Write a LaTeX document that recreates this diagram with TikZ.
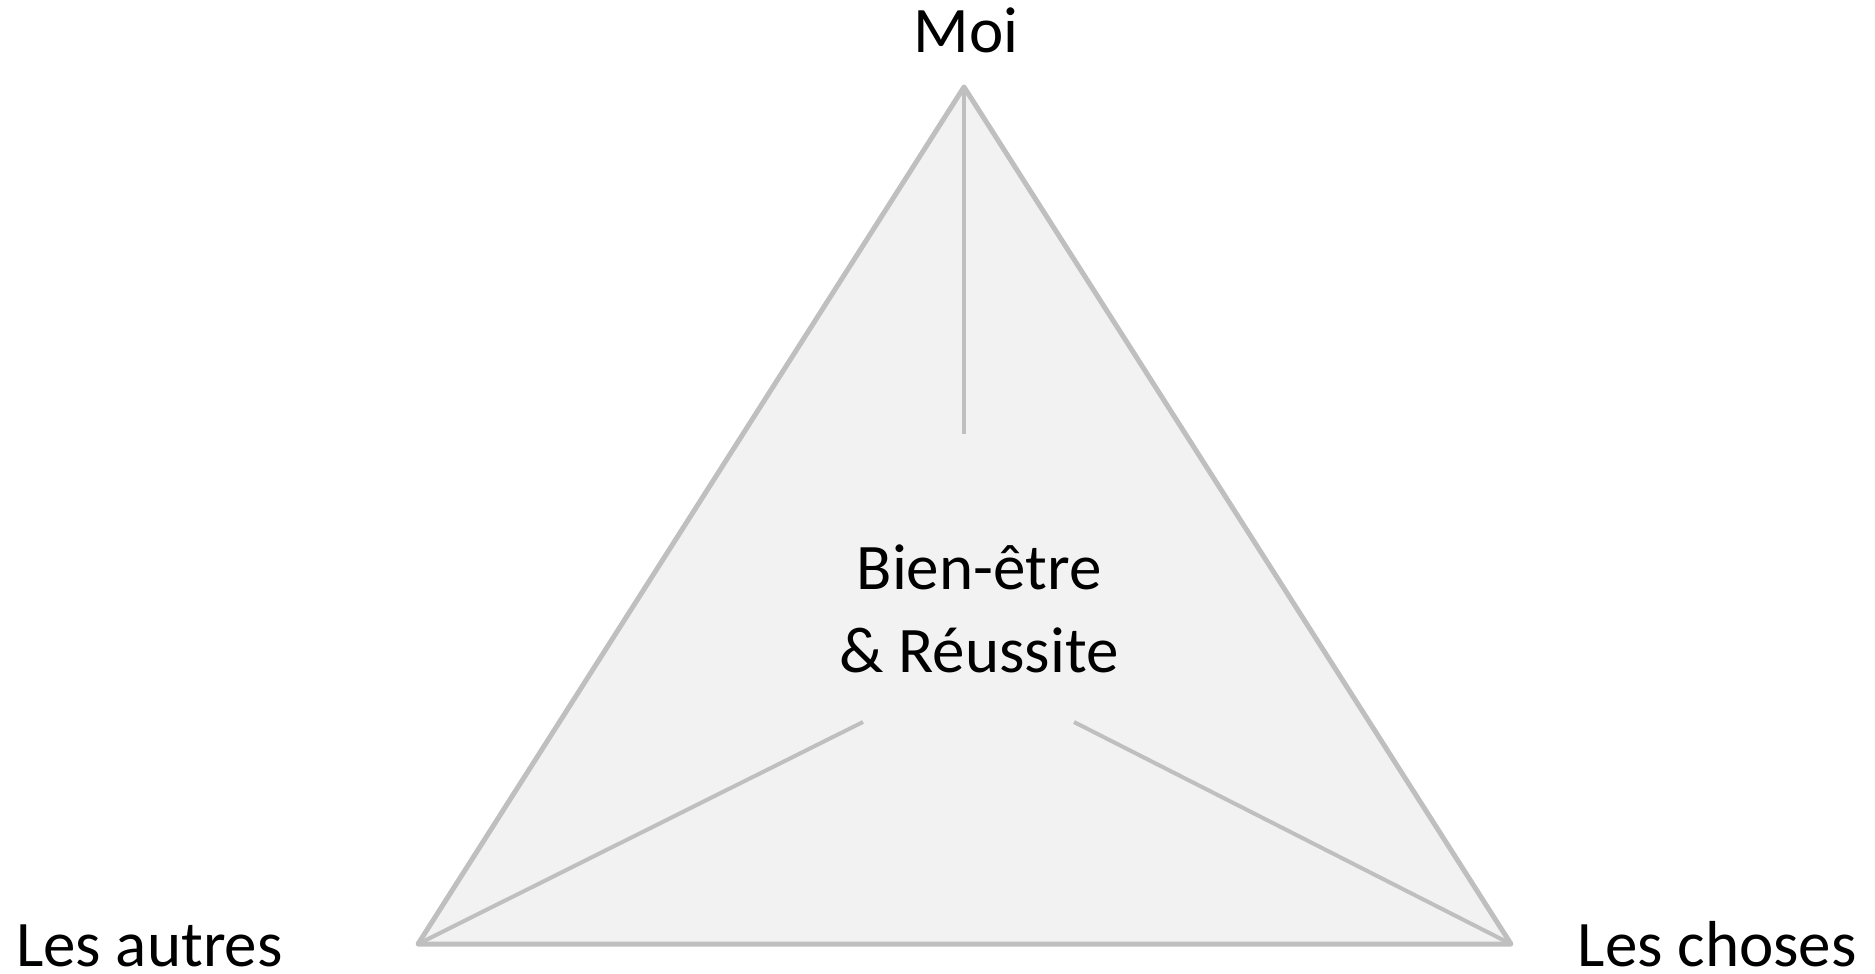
\documentclass[tikz,border=0pt]{standalone}
\usepackage{fontspec}
\setmainfont{Carlito}
\definecolor{trifill}{HTML}{F2F2F2}
\definecolor{triline}{HTML}{BFBFBF}
\begin{document}
\begin{tikzpicture}[x=1pt,y=-1pt,
  edge/.style={draw=triline,line width=5pt,line join=round,line cap=round},
  spoke/.style={draw=triline,line width=4pt},
  lbl/.style={font=\fontsize{65}{81}\selectfont,inner sep=0pt,text=black}]
\useasboundingbox (0,0) rectangle (1875,974);
\coordinate (A) at (964,87);
\coordinate (B) at (418,944);
\coordinate (C) at (1511,944);
\coordinate (Ae) at (964,434);
\coordinate (Be) at (863,722);
\coordinate (Ce) at (1074,722);
\filldraw[edge,fill=trifill] (A) -- (B) -- (C) -- cycle;
\draw[spoke] (A) -- (Ae);
\draw[spoke] (Be) -- (B);
\draw[spoke] (Ce) -- (C);
\node[lbl,anchor=base] (moi) at (966,53) {Moi};
\node[lbl,text depth=0pt,anchor=base west] (autres) at (16,966) {Les autres};
\node[lbl,text depth=0pt,anchor=base east] (choses) at (1857,966) {Les choses};
\node[lbl,align=center,anchor=center] (centre) at (979,609) {Bien-être\\[2pt]\& Réussite};
\end{tikzpicture}
\end{document}
